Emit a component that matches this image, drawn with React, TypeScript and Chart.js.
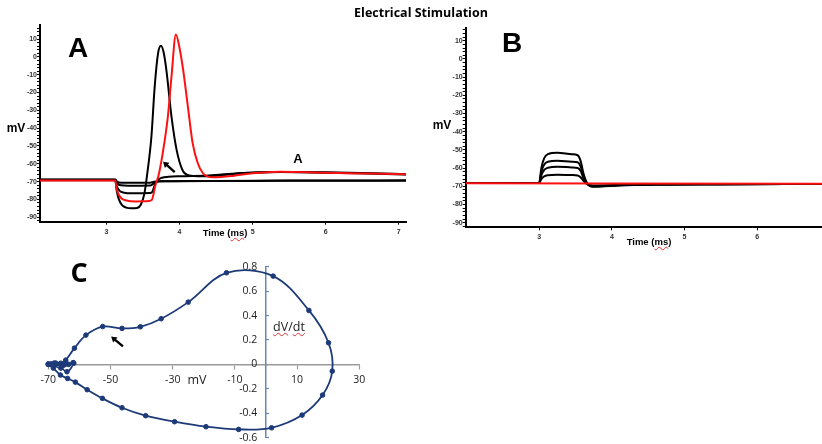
import React, { useEffect, useRef } from "react";
import { Chart, registerables } from "chart.js";

Chart.register(...registerables);

// ---------- Panel A: responses to hyperpolarising current steps ----------
const aRedTime = [2.09, 3.0, 3.12, 3.14, 3.17, 3.21, 3.27, 3.4, 3.55, 3.62, 3.67, 3.71, 3.77, 3.84, 3.89, 3.95, 4.0, 4.05, 4.12, 4.18, 4.25, 4.32, 4.39, 4.46, 4.73, 5.0, 5.37, 6.0, 6.6, 7.1];
const aRedMv = [-69.4, -69.4, -69.4, -74, -77.5, -79.6, -80.6, -81.1, -81, -80.3, -72, -67, -54, -33.6, -11, 12.6, 5, -7.4, -29.8, -48.5, -59.7, -65.3, -67.2, -67.6, -66.8, -65.3, -64.4, -65, -65.5, -65.9];

const aSpikeTime = [2.09, 3.0, 3.12, 3.14, 3.17, 3.21, 3.27, 3.34, 3.42, 3.47, 3.52, 3.56, 3.59, 3.615, 3.66, 3.706, 3.745, 3.78, 3.82, 3.89, 3.96, 4.04, 4.12, 4.3, 4.46, 4.8, 5.0, 5.4, 6.0, 6.6, 7.1];
const aSpikeMv = [-69.2, -69.2, -69.2, -75, -80, -83, -84.6, -85, -84.8, -83, -76.5, -65, -55, -44.8, -16.7, 2, 6.3, 3, -7.4, -33.5, -52.2, -63.5, -66.4, -67, -66.8, -65.5, -65, -64.6, -65, -65.5, -66];

const aStep3Time = [2.09, 3.0, 3.12, 3.14, 3.18, 3.24, 3.35, 3.6, 3.63, 3.66, 3.7, 3.76, 3.85, 4.0, 4.4, 4.8, 5.3, 6.0, 6.6, 7.1];
const aStep3Mv = [-69.1, -69.1, -69.1, -72.5, -75.2, -76.2, -76.5, -76.4, -75.5, -72, -69.2, -67.8, -67.3, -67.0, -66.6, -65.3, -64.6, -64.8, -65.3, -65.8];

const aStep2Time = [2.09, 3.0, 3.12, 3.15, 3.2, 3.3, 3.6, 3.63, 3.68, 3.75, 4.2, 5.0, 6.0, 7.1];
const aStep2Mv = [-69.0, -69.0, -69.0, -71.2, -72.1, -72.3, -72.2, -71.5, -70.2, -69.8, -69.7, -69.6, -69.5, -69.5];

const aStep1Time = [2.09, 3.0, 3.12, 3.15, 3.2, 3.6, 3.64, 3.7, 4.5, 5.5, 7.1];
const aStep1Mv = [-68.8, -68.8, -68.8, -70.2, -70.6, -70.6, -70.2, -69.8, -69.6, -69.4, -69.3];

const aTimeTicks = [3, 4, 5, 6, 7];

// ---------- Panel B: responses to depolarising current steps ----------
const bRedTime = [1.99, 6.89];
const bRedMv = [-68.3, -68.6];

const bStepTime = [1.99, 3.0, 3.03, 3.07, 3.12, 3.25, 3.45, 3.53, 3.57, 3.61, 3.66, 3.74, 3.85, 4.1, 4.6, 5.5, 6.89];
const bStep1Mv = [-68.2, -68.2, -60, -54.5, -52.3, -51.6, -52.4, -52.9, -56, -63, -68.3, -70.2, -70.1, -69.5, -69, -68.8, -68.7];
const bStep2Mv = [-68.2, -68.2, -62, -58, -56.5, -56.0, -56.5, -56.8, -59, -64.5, -68.5, -70, -69.9, -69.4, -69, -68.8, -68.7];
const bStep3Mv = [-68.2, -68.2, -64, -61, -59.8, -59.2, -59.6, -59.9, -61.5, -65.5, -68.6, -69.8, -69.7, -69.3, -69, -68.8, -68.7];
const bStep4Mv = [-68.2, -68.2, -66, -64.5, -63.9, -63.6, -63.8, -64.0, -65, -67, -68.8, -69.6, -69.5, -69.2, -68.9, -68.8, -68.7];

const bTimeTicks = [3, 4, 5, 6];

// Voltage axis labels shared by A and B
const voltLabels = [10, 0, -10, -20, -30, -40, -50, -60, -70, -80, -90];

// ---------- Panel C: phase plot (dV/dt against membrane potential) ----------
const cMv = [
  -70, -68, -66, -64.4, -61.6, -57.9, -52.5, -46.3, -40.4, -33.7, -25.0, -12.7, 2.3, 13.8, 20.1, 21.3,
  18.2, 11.6, 1.8, -8.8, -19.3, -29.4, -38.7, -46.3, -52.6, -57.5, -61.3, -63.8, -66.1, -68.4,
  -70, -67.5, -64, -62, -65.5, -69, -66, -63.5, -61.8, -64.5, -68, -70,
];
const cDvdt = [
  0, 0.005, 0.01, 0.035, 0.133, 0.24, 0.31, 0.295, 0.308, 0.374, 0.51, 0.75, 0.723, 0.442, 0.177, -0.055,
  -0.251, -0.415, -0.519, -0.532, -0.51, -0.469, -0.42, -0.355, -0.278, -0.207, -0.145, -0.115, -0.087, -0.03,
  0, 0.01, -0.06, 0.015, -0.01, 0.005, -0.03, 0, 0.01, 0.015, 0.012, 0.005,
];
const cMvTicks = [-70, -50, -30, -10, 10, 30];
const cDvdtTicks = [-0.6, -0.4, -0.2, 0, 0.2, 0.4, 0.6, 0.8];

const NAVY = "#1d3a78";
const RED = "#ff1010";

const zip = (xs: number[], ys: number[]) => xs.map((x, i) => ({ x, y: ys[i] }));

// Fixes a scale's footprint so the plot area is exactly the layout padding box
const fixSize = (w: number | null, h: number | null) => (s: any) => {
  if (w !== null) s.width = w;
  if (h !== null) s.height = h;
  s.paddingTop = 0;
  s.paddingBottom = 0;
  s.paddingLeft = 0;
  s.paddingRight = 0;
};

// Draws straight annotation arrows given in data units
const arrowPlugin = {
  id: "arrow",
  afterDatasetsDraw(chart: any, _args: any, opts: any) {
    const items = opts && opts.items;
    if (!items) return;
    const { ctx } = chart;
    const xs = chart.scales.x;
    const ys = chart.scales.y;
    for (const a of items) {
      const x1 = xs.getPixelForValue(a.from[0]);
      const y1 = ys.getPixelForValue(a.from[1]);
      const x2 = xs.getPixelForValue(a.to[0]);
      const y2 = ys.getPixelForValue(a.to[1]);
      const ang = Math.atan2(y2 - y1, x2 - x1);
      const head = 6.5;
      ctx.save();
      ctx.strokeStyle = "#000";
      ctx.fillStyle = "#000";
      ctx.lineWidth = 2.4;
      ctx.beginPath();
      ctx.moveTo(x1, y1);
      ctx.lineTo(x2 - Math.cos(ang) * head * 0.7, y2 - Math.sin(ang) * head * 0.7);
      ctx.stroke();
      ctx.beginPath();
      ctx.moveTo(x2, y2);
      ctx.lineTo(x2 - head * Math.cos(ang - 0.55), y2 - head * Math.sin(ang - 0.55));
      ctx.lineTo(x2 - head * Math.cos(ang + 0.55), y2 - head * Math.sin(ang + 0.55));
      ctx.closePath();
      ctx.fill();
      ctx.restore();
    }
  },
};

const tickFont = { family: "'Liberation Sans', Arial, sans-serif", size: 7, weight: "bold" as const };

function traceScales(xMin: number, xMax: number, xTicks: number[], yMin: number, yMax: number, yWidth: number, xHeight: number) {
  const minor: number[] = [];
  for (let v = Math.ceil(yMin / 2) * 2; v <= yMax; v += 2) minor.push(v);
  return {
    x: {
      type: "linear" as const,
      min: xMin,
      max: xMax,
      afterBuildTicks: (s: any) => {
        s.ticks = xTicks.map((value) => ({ value }));
      },
      afterFit: fixSize(null, xHeight),
      grid: { drawOnChartArea: false, tickLength: 3, tickColor: "#000", tickWidth: 1 },
      border: { color: "#000", width: 2 },
      ticks: { font: tickFont, color: "#333", padding: 3, maxRotation: 0, autoSkip: false },
    },
    y: {
      type: "linear" as const,
      min: yMin,
      max: yMax,
      afterBuildTicks: (s: any) => {
        s.ticks = minor.map((value) => ({ value }));
      },
      afterFit: fixSize(yWidth, null),
      grid: { drawOnChartArea: false, tickLength: 3, tickColor: "#000", tickWidth: 1 },
      border: { color: "#000", width: 2 },
      ticks: {
        font: tickFont,
        color: "#333",
        padding: 0,
        autoSkip: false,
        callback: (v: any) => (voltLabels.includes(v) ? String(v) : ""),
      },
    },
  };
}

const traceSet = (t: number[], v: number[], color: string) => ({
  data: zip(t, v),
  borderColor: color,
  backgroundColor: color,
  borderWidth: 2,
  pointRadius: 0,
  cubicInterpolationMode: "monotone" as const,
});

const baseOptions = {
  responsive: false,
  animation: false as const,
  events: [] as any[],
  maintainAspectRatio: false,
};

function Label(props: { x: number; y: number; size: number; weight?: number | string; family?: string; children: React.ReactNode; color?: string }) {
  const { x, y, size, weight = "bold", family = "'Liberation Sans', Arial, sans-serif", children, color = "#000" } = props;
  return (
    <div
      style={{
        position: "absolute",
        left: x,
        top: y,
        transform: "translate(-50%, -50%)",
        fontSize: size,
        fontWeight: weight as any,
        fontFamily: family,
        lineHeight: 1,
        whiteSpace: "nowrap",
        color,
      }}
    >
      {children}
    </div>
  );
}

const squiggle: React.CSSProperties = {
  textDecorationLine: "underline",
  textDecorationStyle: "wavy",
  textDecorationColor: "#e03030",
  textDecorationThickness: "1px",
};

export default function App() {
  const aRef = useRef<HTMLCanvasElement>(null);
  const bRef = useRef<HTMLCanvasElement>(null);
  const cRef = useRef<HTMLCanvasElement>(null);

  useEffect(() => {
    const charts: Chart[] = [];

    charts.push(
      new Chart(aRef.current as HTMLCanvasElement, {
        type: "line",
        data: {
          datasets: [
            traceSet(aRedTime, aRedMv, RED),
            traceSet(aSpikeTime, aSpikeMv, "#000"),
            traceSet(aStep3Time, aStep3Mv, "#000"),
            traceSet(aStep2Time, aStep2Mv, "#000"),
            traceSet(aStep1Time, aStep1Mv, "#000"),
          ],
        },
        options: {
          ...baseOptions,
          layout: { padding: { left: 0, top: 5, right: 14, bottom: 0 } },
          scales: traceScales(2.09, 7.1, aTimeTicks, -92.5, 17.9, 40, 28.3) as any,
          plugins: {
            legend: { display: false },
            tooltip: { enabled: false },
            arrow: { items: [{ from: [3.934, -64.7], to: [3.774, -58.8] }] },
          } as any,
        },
        plugins: [arrowPlugin],
      })
    );

    charts.push(
      new Chart(bRef.current as HTMLCanvasElement, {
        type: "line",
        data: {
          datasets: [
            traceSet(bRedTime, bRedMv, RED),
            traceSet(bStepTime, bStep1Mv, "#000"),
            traceSet(bStepTime, bStep2Mv, "#000"),
            traceSet(bStepTime, bStep3Mv, "#000"),
            traceSet(bStepTime, bStep4Mv, "#000"),
          ],
        },
        options: {
          ...baseOptions,
          layout: { padding: { left: 0, top: 8, right: 0, bottom: 0 } },
          scales: traceScales(1.99, 6.89, bTimeTicks, -92.5, 17, 45.7, 22.7) as any,
          plugins: { legend: { display: false }, tooltip: { enabled: false } },
        },
      })
    );

    const cTickFont = { family: "'Open Sans', sans-serif", size: 10.5 };
    charts.push(
      new Chart(cRef.current as HTMLCanvasElement, {
        type: "scatter",
        data: {
          datasets: [
            {
              data: zip(cMv, cDvdt),
              xAxisID: "x",
              yAxisID: "y",
              showLine: true,
              borderColor: NAVY,
              backgroundColor: NAVY,
              borderWidth: 1.8,
              pointRadius: 2.3,
              pointBorderWidth: 1,
              pointHoverRadius: 2.3,
              tension: 0.35,
              clip: false as any,
            },
          ],
        },
        options: {
          ...baseOptions,
          layout: { padding: { left: 48.3, top: 16.7, right: 60.7, bottom: 6.3 } },
          scales: {
            x: {
              type: "linear",
              position: { y: 0 } as any,
              min: -70,
              max: 30,
              afterBuildTicks: (s: any) => {
                s.ticks = cMvTicks.map((value) => ({ value }));
              },
              afterFit: fixSize(null, 0),
              grid: { drawOnChartArea: false, tickLength: 4, tickColor: "#9a9a9a", tickWidth: 1.2 },
              border: { color: "#9a9a9a", width: 1.5 },
              ticks: { font: cTickFont, color: "#222", padding: 5, maxRotation: 0, autoSkip: false },
            },
            // dV/dt axis line and tick marks, crossing at 0 mV
            y: {
              type: "linear",
              position: { x: 0 } as any,
              min: -0.6,
              max: 0.8,
              afterBuildTicks: (s: any) => {
                s.ticks = cDvdtTicks.map((value) => ({ value }));
              },
              afterFit: fixSize(0, null),
              grid: { drawOnChartArea: false, tickLength: -4, tickColor: "#6a86b4", tickWidth: 1.2 },
              border: { color: "#6a86b4", width: 1.5 },
              ticks: { display: false },
            },
            // dV/dt tick labels, set just left of the axis line
            yLabels: {
              type: "linear",
              axis: "y",
              position: { x: -2.8 } as any,
              min: -0.6,
              max: 0.8,
              afterBuildTicks: (s: any) => {
                s.ticks = cDvdtTicks.map((value) => ({ value }));
              },
              afterFit: fixSize(0, null),
              grid: { display: false, drawOnChartArea: false, drawTicks: false },
              border: { display: false },
              ticks: {
                font: cTickFont,
                color: "#222",
                padding: 0,
                autoSkip: false,
                callback: (v: any) => (v === 0 ? "0" : Number(v).toFixed(1)),
              },
            },
          } as any,
          plugins: {
            legend: { display: false },
            tooltip: { enabled: false },
            arrow: { items: [{ from: [-46, 0.147], to: [-49.8, 0.229] }] },
          } as any,
        },
        plugins: [arrowPlugin],
      })
    );

    return () => charts.forEach((c) => c.destroy());
  }, []);

  const canvasStyle = (left: number, top: number, w: number, h: number): React.CSSProperties => ({
    position: "absolute",
    left,
    top,
    width: w,
    height: h,
  });

  return (
    <div
      style={{
        position: "fixed",
        left: 0,
        top: 0,
        width: 822,
        height: 444,
        overflow: "hidden",
        background: "#fff",
      }}
    >
      <canvas ref={aRef} width={420} height={230} style={canvasStyle(0, 20, 420, 230)} />
      <canvas ref={bRef} width={402} height={230} style={canvasStyle(420, 20, 402, 230)} />
      <canvas ref={cRef} width={420} height={194} style={canvasStyle(0, 250, 420, 194)} />

      <Label x={421} y={13} size={12.5} family="'Open Sans', sans-serif">
        Electrical Stimulation
      </Label>

      <Label x={78} y={48} size={28}>A</Label>
      <Label x={16} y={128} size={12}>mV</Label>
      <Label x={225} y={233} size={9.5}>
        Time (<span style={squiggle}>ms</span>)
      </Label>
      <Label x={298} y={158} size={13}>A</Label>

      <Label x={512} y={43} size={28}>B</Label>
      <Label x={442} y={125} size={12}>mV</Label>
      <Label x={649} y={242} size={9.5}>
        Time (<span style={squiggle}>ms</span>)
      </Label>

      <Label x={79} y={271} size={27} family="'Open Sans', sans-serif">C</Label>
      <Label x={197} y={380} size={12.5} weight="normal" family="'Open Sans', sans-serif" color="#222">
        mV
      </Label>
      <Label x={289} y={327} size={12.5} weight="normal" family="'Open Sans', sans-serif" color="#222">
        <span style={squiggle}>dV</span>/<span style={squiggle}>dt</span>
      </Label>
    </div>
  );
}
